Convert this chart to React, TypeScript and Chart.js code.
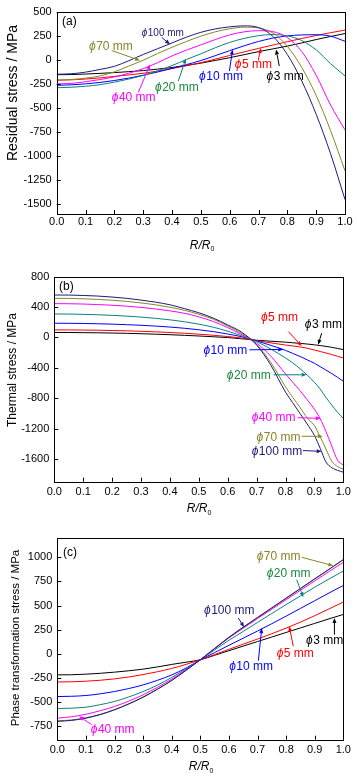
import React, { useEffect, useRef } from "react";
import { Chart, registerables } from "chart.js";
Chart.register(...registerables);

const FONT = "'Liberation Sans', Arial, Helvetica, sans-serif";

// ---------- categories / tick labels ----------
const xTicks = [0, 0.1, 0.2, 0.3, 0.4, 0.5, 0.6, 0.7, 0.8, 0.9, 1.0];
const yTicksA = [500, 250, 0, -250, -500, -750, -1000, -1250, -1500];
const yTicksB = [800, 400, 0, -400, -800, -1200, -1600];
const yTicksC = [1000, 750, 500, 250, 0, -250, -500, -750];

const seriesNames = ["ϕ100 mm", "ϕ70 mm", "ϕ40 mm", "ϕ20 mm", "ϕ10 mm", "ϕ5 mm", "ϕ3 mm"];

// ---------- (a) residual stress ----------
const xA = [0, 0.05, 0.1, 0.15, 0.2, 0.25, 0.3, 0.35, 0.4, 0.45, 0.5, 0.55, 0.6, 0.65, 0.7, 0.75, 0.8, 0.85, 0.9, 0.95, 1.0];
const resD100 = [-150, -145, -128, -100, -68, -10, 55, 115, 175, 235, 285, 320, 342, 352, 335, 243, 55, -220, -565, -975, -1450];
const resD70 = [-210, -205, -190, -168, -125, -65, -5, 65, 130, 190, 245, 290, 322, 338, 330, 278, 140, -80, -370, -735, -1152];
const resD40 = [-250, -245, -228, -205, -178, -140, -92, -30, 40, 100, 155, 210, 258, 290, 302, 292, 230, 85, -160, -470, -728];
const resD20 = [-290, -285, -275, -258, -232, -200, -162, -115, -60, 3, 62, 125, 180, 222, 250, 262, 248, 200, 103, -40, -168];
const resD10 = [-265, -260, -250, -235, -215, -190, -160, -127, -90, -50, -8, 43, 95, 145, 190, 225, 248, 258, 260, 245, 192];
const resD5 = [-212, -208, -200, -188, -172, -157, -140, -117, -90, -62, -30, 7, 45, 82, 118, 153, 188, 221, 252, 281, 308];
const resD3 = [-155, -153, -148, -141, -133, -123, -112, -97, -80, -58, -35, -7, 22, 53, 85, 113, 142, 175, 210, 242, 272];

// ---------- (b) thermal stress ----------
const xB = [0, 0.05, 0.1, 0.15, 0.2, 0.25, 0.3, 0.35, 0.4, 0.45, 0.5, 0.55, 0.6, 0.65, 0.7, 0.75, 0.8, 0.825, 0.85, 0.875, 0.9, 0.92, 0.94, 0.96, 0.98, 1.0];
const thD100 = [559, 558, 553, 545, 532, 515, 492, 465, 430, 380, 325, 255, 165, 65, -100, -370, -720, -860, -1000, -1140, -1290, -1460, -1640, -1715, -1750, -1775];
const thD70 = [515, 514, 509, 501, 490, 475, 455, 430, 398, 358, 305, 240, 152, 50, -90, -335, -650, -790, -920, -1060, -1160, -1310, -1470, -1630, -1700, -1735];
const thD40 = [445, 444, 440, 433, 424, 412, 396, 375, 350, 318, 272, 210, 130, 35, -75, -250, -480, -590, -700, -820, -945, -1070, -1240, -1430, -1615, -1680];
const thD20 = [309, 308, 304, 299, 291, 281, 268, 252, 232, 207, 175, 135, 82, 20, -55, -155, -270, -335, -410, -495, -590, -680, -790, -890, -985, -1065];
const thD10 = [187, 186, 184, 180, 175, 168, 160, 150, 137, 121, 101, 77, 45, 8, -45, -105, -170, -210, -250, -295, -340, -385, -430, -475, -525, -577];
const thD5 = [100, 99, 97, 95, 91, 87, 81, 74, 65, 55, 43, 29, 12, -10, -42, -72, -100, -112, -125, -142, -165, -185, -205, -225, -248, -270];
const thD3 = [66, 65, 63, 61, 58, 54, 49, 43, 36, 28, 19, 9, -2, -18, -37, -50, -62, -70, -78, -87, -97, -107, -118, -130, -145, -160];

// ---------- (c) phase transformation stress ----------
const xC = [0, 0.05, 0.1, 0.15, 0.2, 0.25, 0.3, 0.35, 0.4, 0.45, 0.5, 0.55, 0.6, 0.65, 0.7, 0.75, 0.8, 0.85, 0.9, 0.95, 1.0];
const phD100 = [-700, -690, -667, -630, -581, -520, -450, -368, -277, -172, -62, 55, 170, 275, 375, 475, 575, 675, 775, 875, 975];
const phD70 = [-695, -685, -663, -627, -578, -517, -447, -365, -275, -170, -62, 56, 172, 277, 378, 478, 578, 678, 778, 876, 978];
const phD40 = [-667, -652, -626, -590, -546, -490, -425, -348, -263, -165, -62, 52, 165, 265, 365, 462, 560, 658, 755, 852, 948];
const phD20 = [-567, -563, -553, -527, -494, -447, -391, -325, -245, -157, -62, 40, 140, 232, 325, 418, 510, 600, 690, 775, 858];
const phD10 = [-443, -440, -432, -415, -391, -360, -322, -275, -219, -148, -62, 12, 88, 162, 236, 312, 390, 470, 550, 630, 708];
const phD5 = [-292, -290, -284, -274, -260, -240, -215, -186, -152, -110, -62, -8, 46, 100, 153, 208, 266, 328, 395, 465, 536];
const phD3 = [-218, -217, -211, -202, -190, -176, -159, -136, -110, -87, -62, -15, 32, 80, 127, 174, 221, 268, 315, 362, 408];

// ---------- styles ----------
const lineColors = ["#1c1c78", "#85852a", "#ff00ff", "#0a8080", "#0000ff", "#ff0000", "#000000"];
const textColors = ["#1c1c78", "#85852a", "#ff00ff", "#1a8a3a", "#0000ff", "#ff0000", "#000000"];

type Ann = { s: number; tx: number; ty: number; ax1: number; ay1: number; ax2: number; ay2: number; size: number };

// annotation placements (data coordinates)
const annA: Ann[] = [
  { s: 0, tx: 0.295, ty: 279, ax1: 0.364, ay1: 233, ax2: 0.393, ay2: 160, size: 10 },
  { s: 1, tx: 0.112, ty: 140, ax1: 0.191, ay1: 96, ax2: 0.289, ay2: -7, size: 12 },
  { s: 2, tx: 0.191, ty: -391, ax1: 0.283, ay1: -339, ax2: 0.324, ay2: -48, size: 12 },
  { s: 3, tx: 0.341, ty: -291, ax1: 0.422, ay1: -219, ax2: 0.448, ay2: 14, size: 12 },
  { s: 4, tx: 0.494, ty: -171, ax1: 0.599, ay1: -117, ax2: 0.61, ay2: 106, size: 12 },
  { s: 5, tx: 0.618, ty: -55, ax1: 0.699, ay1: -7, ax2: 0.708, ay2: 123, size: 12 },
  { s: 6, tx: 0.728, ty: -171, ax1: 0.772, ay1: -65, ax2: 0.761, ay2: 106, size: 12 },
];
const annB: Ann[] = [
  { s: 5, tx: 0.715, ty: 257, ax1: 0.81, ay1: 77, ax2: 0.856, ay2: -112, size: 12 },
  { s: 6, tx: 0.867, ty: 165, ax1: 0.925, ay1: 56, ax2: 0.913, ay2: -97, size: 12 },
  { s: 4, tx: 0.516, ty: -172, ax1: 0.675, ay1: -163, ax2: 0.792, ay2: -158, size: 12 },
  { s: 3, tx: 0.597, ty: -498, ax1: 0.758, ay1: -492, ax2: 0.873, ay2: -492, size: 12 },
  { s: 2, tx: 0.683, ty: -1057, ax1: 0.842, ay1: -1057, ax2: 0.922, ay2: -1066, size: 12 },
  { s: 1, tx: 0.7, ty: -1316, ax1: 0.856, ay1: -1302, ax2: 0.929, ay2: -1302, size: 12 },
  { s: 0, tx: 0.683, ty: -1500, ax1: 0.86, ay1: -1490, ax2: 0.925, ay2: -1500, size: 12 },
];
const annC: Ann[] = [
  { s: 1, tx: 0.697, ty: 1003, ax1: 0.855, ay1: 1000, ax2: 0.965, ay2: 913, size: 12 },
  { s: 3, tx: 0.732, ty: 827, ax1: 0.837, ay1: 768, ax2: 0.86, ay2: 586, size: 12 },
  { s: 0, tx: 0.513, ty: 444, ax1: 0.633, ay1: 371, ax2: 0.653, ay2: 275, size: 12 },
  { s: 4, tx: 0.601, ty: -131, ax1: 0.703, ay1: -71, ax2: 0.715, ay2: 268, size: 12 },
  { s: 5, tx: 0.767, ty: 6, ax1: 0.825, ay1: 78, ax2: 0.811, ay2: 285, size: 12 },
  { s: 6, tx: 0.87, ty: 133, ax1: 0.969, ay1: 198, ax2: 0.969, ay2: 371, size: 12 },
  { s: 2, tx: 0.117, ty: -785, ax1: 0.12, ay1: -734, ax2: 0.076, ay2: -647, size: 12 },
];

type PanelCfg = {
  top: number;
  xs: number[];
  series: number[][];
  order: number[];
  yMin: number;
  yMax: number;
  yTicks: number[];
  ann: Ann[];
  padTop: number;
  padRight: number;
  yWidth: number;
  xHeight: number;
  yTitle: string;
  yTitleX: number;
  yTitleY: number;
  yTitleSize: number;
  xTitleCx: number;
  xTitleY: number;
  label: string;
  labelX: number;
  labelY: number;
  xTickPad: number;
};

const panels: PanelCfg[] = [
  {
    top: 0, xs: xA, series: [resD100, resD70, resD40, resD20, resD10, resD5, resD3],
    order: [0, 2, 1, 3, 4, 5, 6],
    yMin: -1600, yMax: 500, yTicks: yTicksA, ann: annA,
    padTop: 10, padRight: 12, yWidth: 56.7, xHeight: 46,
    yTitle: "Residual stress / MPa", yTitleX: 13.5, yTitleY: 93, yTitleSize: 14,
    xTitleCx: 202, xTitleY: 245.5, label: "(a)", labelX: 62, labelY: 22, xTickPad: 1,
  },
  {
    top: 260, xs: xB, series: [thD100, thD70, thD40, thD20, thD10, thD5, thD3],
    order: [0, 1, 2, 3, 4, 5, 6],
    yMin: -1900, yMax: 800, yTicks: yTicksB, ann: annB,
    padTop: 16.7, padRight: 13.7, yWidth: 54.3, xHeight: 38.3,
    yTitle: "Thermal stress / MPa", yTitleX: 12.5, yTitleY: 110, yTitleSize: 12,
    xTitleCx: 199, xTitleY: 249, label: "(b)", labelX: 59, labelY: 27, xTickPad: 4,
  },
  {
    top: 518, xs: xC, series: [phD100, phD70, phD40, phD20, phD10, phD5, phD3],
    order: [0, 2, 3, 4, 5, 6, 1],
    yMin: -890, yMax: 1200, yTicks: yTicksC, ann: annC,
    padTop: 20, padRight: 13.7, yWidth: 57.3, xHeight: 38.3,
    yTitle: "Phase transformation stress / MPa", yTitleX: 15.7, yTitleY: 120, yTitleSize: 11.5,
    xTitleCx: 201, xTitleY: 249, label: "(c)", labelX: 63, labelY: 34.5, xTickPad: 3.5,
  },
];

function drawArrow(ctx: CanvasRenderingContext2D, x1: number, y1: number, x2: number, y2: number, color: string) {
  ctx.save();
  ctx.strokeStyle = color;
  ctx.fillStyle = color;
  ctx.lineWidth = 1;
  const ang = Math.atan2(y2 - y1, x2 - x1);
  const hl = 5, hw = 2;
  const bx = x2 - hl * Math.cos(ang), by = y2 - hl * Math.sin(ang);
  ctx.beginPath();
  ctx.moveTo(x1, y1);
  ctx.lineTo(bx, by);
  ctx.stroke();
  ctx.beginPath();
  ctx.moveTo(x2, y2);
  ctx.lineTo(bx + hw * Math.sin(ang), by - hw * Math.cos(ang));
  ctx.lineTo(bx - hw * Math.sin(ang), by + hw * Math.cos(ang));
  ctx.closePath();
  ctx.fill();
  ctx.restore();
}

function makeDecor(cfg: PanelCfg) {
  return {
    id: "decor",
    afterDraw(chart: any) {
      const ctx: CanvasRenderingContext2D = chart.ctx;
      const { left, right, top, bottom } = chart.chartArea;
      const xs = chart.scales.x, ys = chart.scales.y;
      ctx.save();
      // frame
      ctx.strokeStyle = "#000";
      ctx.lineWidth = 1;
      ctx.strokeRect(Math.round(left) + 0.5, Math.round(top) + 0.5, Math.round(right) - Math.round(left), Math.round(bottom) - Math.round(top));
      // inward ticks
      ctx.beginPath();
      for (const v of cfg.yTicks) {
        const py = Math.round(ys.getPixelForValue(v)) + 0.5;
        ctx.moveTo(left, py);
        ctx.lineTo(left + 4, py);
      }
      for (const v of xTicks) {
        const px = Math.round(xs.getPixelForValue(v)) + 0.5;
        ctx.moveTo(px, bottom);
        ctx.lineTo(px, bottom - 4);
      }
      ctx.stroke();

      // annotations
      for (const a of cfg.ann) {
        const tx = xs.getPixelForValue(a.tx), ty = ys.getPixelForValue(a.ty);
        ctx.textBaseline = "middle";
        ctx.textAlign = "left";
        ctx.fillStyle = textColors[a.s];
        const name = seriesNames[a.s];
        const phi = name.slice(0, 1), rest = name.slice(1);
        ctx.font = `italic ${a.size}px ${FONT}`;
        ctx.fillText(phi, tx, ty);
        const w = ctx.measureText(phi).width;
        ctx.font = `${a.size}px ${FONT}`;
        ctx.fillText(rest, tx + w + 0.5, ty);
        drawArrow(ctx, xs.getPixelForValue(a.ax1), ys.getPixelForValue(a.ay1), xs.getPixelForValue(a.ax2), ys.getPixelForValue(a.ay2), lineColors[a.s]);
      }

      // panel label
      ctx.fillStyle = "#000";
      ctx.font = `12px ${FONT}`;
      ctx.textAlign = "left";
      ctx.textBaseline = "middle";
      ctx.fillText(cfg.label, cfg.labelX, cfg.labelY);

      // y title
      ctx.save();
      ctx.translate(cfg.yTitleX, cfg.yTitleY);
      ctx.rotate(-Math.PI / 2);
      ctx.textAlign = "center";
      ctx.textBaseline = "middle";
      ctx.font = `${cfg.yTitleSize}px ${FONT}`;
      ctx.fillText(cfg.yTitle, 0, 0);
      ctx.restore();

      // x title R/R0
      ctx.font = `italic 12px ${FONT}`;
      const main = "R/R";
      const wm = ctx.measureText(main).width;
      ctx.font = `7px ${FONT}`;
      const ws = ctx.measureText("0").width;
      const x0 = cfg.xTitleCx - (wm + ws) / 2;
      ctx.font = `italic 12px ${FONT}`;
      ctx.textAlign = "left";
      ctx.textBaseline = "middle";
      ctx.fillText(main, x0, cfg.xTitleY);
      ctx.font = `7px ${FONT}`;
      ctx.fillText("0", x0 + wm, cfg.xTitleY + 4);
      ctx.restore();
    },
  };
}

function Panel({ cfg }: { cfg: PanelCfg }) {
  const ref = useRef<HTMLCanvasElement | null>(null);
  useEffect(() => {
    if (!ref.current) return;
    const datasets = cfg.order.map((i) => ({
      label: seriesNames[i],
      data: cfg.xs.map((x, k) => ({ x, y: cfg.series[i][k] })),
      borderColor: lineColors[i],
      backgroundColor: lineColors[i],
      borderWidth: 1,
      pointRadius: 0,
      fill: false,
      cubicInterpolationMode: "monotone" as const,
    }));
    const chart = new Chart(ref.current, {
      type: "line",
      data: { datasets },
      options: {
        animation: false,
        responsive: false,
        maintainAspectRatio: false,
        events: [],
        layout: { padding: { left: 0, right: cfg.padRight, top: cfg.padTop, bottom: 0 } },
        plugins: { legend: { display: false }, tooltip: { enabled: false }, title: { display: false } },
        scales: {
          x: {
            type: "linear",
            min: 0,
            max: 1,
            afterBuildTicks: (s: any) => { s.ticks = xTicks.map((v) => ({ value: v })); },
            afterFit: (s: any) => { s.height = cfg.xHeight; },
            grid: { display: false, drawTicks: false },
            border: { display: false },
            ticks: {
              autoSkip: false,
              maxRotation: 0,
              padding: cfg.xTickPad,
              color: "#000",
              font: { family: FONT, size: 11 },
              callback: (v: any) => Number(v).toFixed(1),
            },
          },
          y: {
            type: "linear",
            min: cfg.yMin,
            max: cfg.yMax,
            afterBuildTicks: (s: any) => { s.ticks = cfg.yTicks.map((v) => ({ value: v })); },
            afterFit: (s: any) => { s.width = cfg.yWidth; },
            grid: { display: false, drawTicks: false },
            border: { display: false },
            ticks: {
              autoSkip: false,
              padding: 5,
              color: "#000",
              font: { family: FONT, size: 11 },
              callback: (v: any) => String(v),
            },
          },
        },
      },
      plugins: [makeDecor(cfg)],
    });
    return () => chart.destroy();
  }, [cfg]);
  return (
    <canvas
      ref={ref}
      width={357}
      height={260}
      style={{ position: "absolute", left: 0, top: cfg.top, width: 357, height: 260 }}
    />
  );
}

export default function App() {
  return (
    <div style={{ position: "absolute", left: 0, top: 0, width: 357, height: 778, background: "#fff", overflow: "hidden" }}>
      {panels.map((p, i) => (
        <Panel key={i} cfg={p} />
      ))}
    </div>
  );
}
